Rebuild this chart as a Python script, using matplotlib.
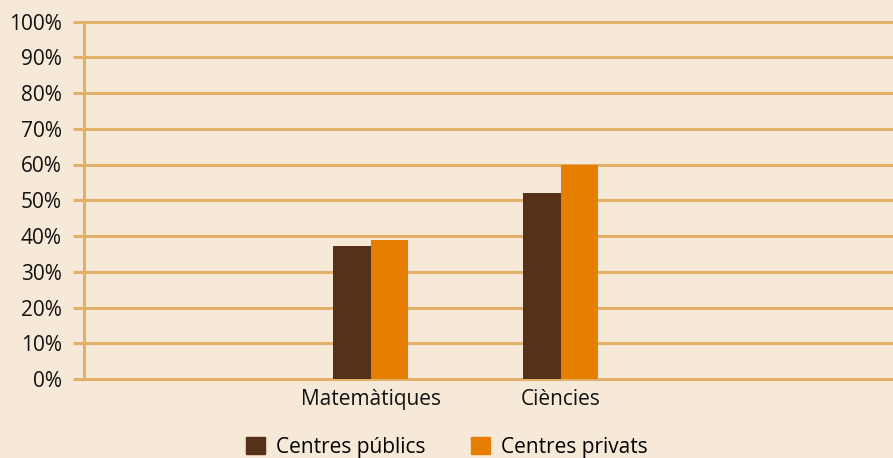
import matplotlib.pyplot as plt
import matplotlib.patches as patches
import numpy as np

# Dades
categories = ['Matemàtiques', 'Ciències']
publics = [37.2, 52.1]
privats = [38.9, 59.8]
series_labels = ['Centres públics', 'Centres privats']
ytick_vals = list(range(0, 101, 10))
ytick_labels = [f'{v}%' for v in ytick_vals]

bg = '#f7e9d8'
grid_col = '#e3b06a'
brown = '#56311a'
orange = '#e67e00'

plt.rcParams['font.family'] = ['Open Sans', 'DejaVu Sans']
fs = 15

fig = plt.figure(figsize=(8.93, 4.58), dpi=100, facecolor=bg)
ax = fig.add_axes([84 / 893, 1 - 379 / 458, 1 - 84 / 893, (379 - 21.5) / 458])
ax.set_facecolor(bg)

x = np.arange(len(categories))
w = 0.197
ax.bar(x - w / 2, publics, w, color=brown, zorder=3)
ax.bar(x + w / 2, privats, w, color=orange, zorder=3)

ax.set_xlim(-1.51, 2.75)
ax.set_ylim(0, 100)
ax.set_yticks(ytick_vals)
ax.set_yticklabels(ytick_labels, fontsize=fs, color='#111111')
ax.set_xticks(x)
ax.set_xticklabels(categories, fontsize=fs, color='#111111')

# Graella
ax.grid(axis='y', color=grid_col, linewidth=2.2, zorder=1)
for gl in ax.yaxis.get_gridlines():
    gl.set_clip_on(False)
for s in ['top', 'right', 'bottom']:
    ax.spines[s].set_visible(False)
ax.spines['left'].set_color(grid_col)
ax.spines['left'].set_linewidth(2.2)
ax.tick_params(axis='y', length=8, width=2.2, color=grid_col, pad=8)
ax.tick_params(axis='x', length=0, pad=7)

# Llegenda
handles = [patches.Patch(color=brown, label=series_labels[0]),
           patches.Patch(color=orange, label=series_labels[1])]
fig.legend(handles=handles, loc='center', bbox_to_anchor=(447 / 893, 1 - 447 / 458),
           ncol=2, frameon=False, fontsize=fs, handlelength=0.9, handleheight=0.9,
           columnspacing=2.15, handletextpad=0.55, borderpad=0)

fig.savefig('out.png', dpi=100, facecolor=bg)
